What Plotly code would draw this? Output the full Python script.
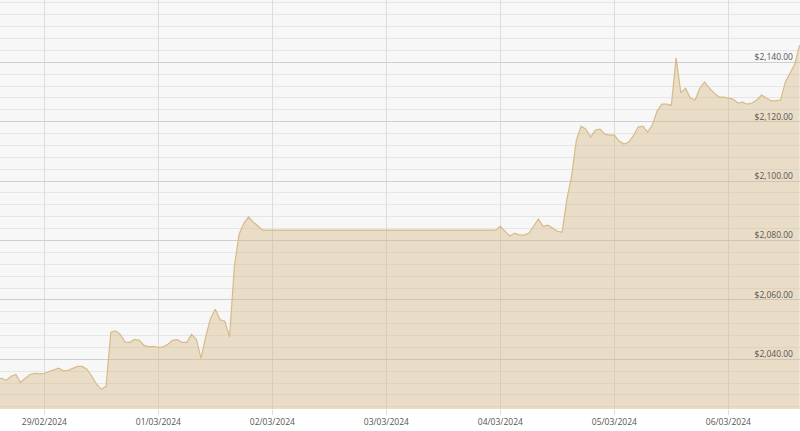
import pandas as pd
import plotly.graph_objects as go

# Hourly gold price (USD/oz)
week1_start = "2024-02-28 14:00"
week1_prices = [
    2033.3, 2033.6, 2032.9, 2034.3, 2034.9, 2032.2, 2033.6, 2034.9, 2035.3, 2035.1,
    2035.3, 2036.0, 2036.5, 2037.0, 2036.1, 2036.3, 2037.0, 2037.6, 2037.6, 2036.6,
    2034.3, 2031.6, 2029.9, 2030.9, 2049.1, 2049.6, 2048.4, 2045.8, 2045.7, 2046.7,
    2046.4, 2044.7, 2044.2, 2044.4, 2044.0, 2044.2, 2045.1, 2046.4, 2046.6, 2045.7,
    2045.7, 2048.4, 2046.7, 2040.3, 2047.8, 2053.8, 2056.9, 2053.3, 2052.8, 2047.5,
    2071.2, 2082.1, 2085.8, 2087.9, 2086.2, 2084.8, 2083.5,
]
week2_start = "2024-03-03 23:00"
week2_prices = [
    2083.5, 2084.8, 2083.1, 2081.5, 2082.5, 2081.8, 2081.8, 2082.5, 2084.8, 2087.2,
    2084.8, 2085.2, 2084.2, 2083.1, 2082.8, 2093.9, 2101.7, 2113.8, 2118.5, 2117.5,
    2114.8, 2117.2, 2117.5, 2115.8, 2115.5, 2115.5, 2113.5, 2112.5, 2113.1, 2115.2,
    2118.2, 2118.5, 2116.5, 2118.9, 2123.6, 2125.9, 2125.9, 2125.5, 2141.5, 2129.7,
    2131.3, 2128.0, 2127.3, 2131.3, 2133.4, 2131.3, 2129.7, 2128.3, 2128.3, 2128.0,
    2127.6, 2126.3, 2126.6, 2125.9, 2126.3, 2127.3, 2129.0, 2128.0, 2127.0, 2127.0,
    2127.3, 2133.4, 2136.4, 2139.4, 2145.8,
]
price_ticks = [2040, 2060, 2080, 2100, 2120, 2140]

times = list(pd.date_range(week1_start, periods=len(week1_prices), freq="h")) + \
        list(pd.date_range(week2_start, periods=len(week2_prices), freq="h"))
prices = week1_prices + week2_prices

fig = go.Figure(go.Scatter(
    x=times, y=prices, mode="lines",
    line=dict(color="#d6bb88", width=1.2),
    fill="tozeroy", fillcolor="rgba(214,183,128,0.40)",
    hoverinfo="skip",
))

font = dict(family="Open Sans", size=8.5, color="#555555")
fig.update_layout(
    width=800, height=431,
    margin=dict(l=0, r=0, t=0, b=22),
    paper_bgcolor="white", plot_bgcolor="#f7f7f7",
    showlegend=False, font=font,
    xaxis=dict(
        type="date", range=["2024-02-28 14:40", "2024-03-06 15:05"],
        tick0="2024-02-29", dtick=86400000, tickformat="%d/%m/%Y",
        showgrid=True, gridcolor="#dcdcdc", gridwidth=1,
        ticks="outside", ticklen=5, tickcolor="#dcdcdc",
        showline=False, zeroline=False, tickfont=font,
    ),
    yaxis=dict(
        range=[2023.27, 2160.98], side="right",
        tickmode="array", tickvals=price_ticks, tickformat="$,.2f",
        ticklabelposition="inside", ticklabelshift=-5, ticklabelstandoff=4,
        showgrid=True, gridcolor="#cfcfcf", gridwidth=1,
        minor=dict(tick0=2040, dtick=4, showgrid=True, gridcolor="#e6e6e6", gridwidth=1),
        zeroline=False, showline=False, ticks="", tickfont=font,
    ),
)

fig.write_html(
    "out.html",
    config={"displayModeBar": False},
    post_script="document.body.style.margin='0';document.body.style.overflow='hidden';",
)
